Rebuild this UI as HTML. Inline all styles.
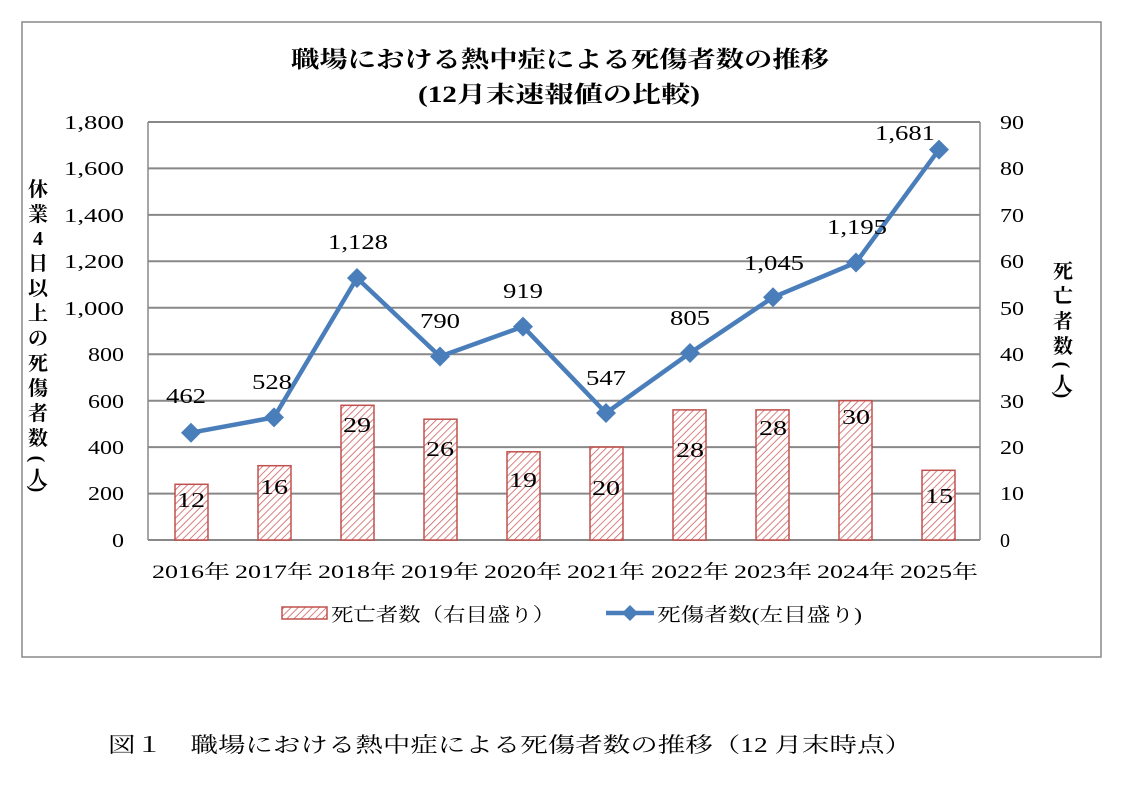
<!DOCTYPE html>
<html><head><meta charset="utf-8"><style>
body{margin:0;background:#fff;}
svg text{font-family:"Liberation Serif","Noto Serif CJK JP",serif;fill:#000;}
</style></head><body>
<svg width="1125" height="783" viewBox="0 0 1125 783" xmlns="http://www.w3.org/2000/svg">
<defs>
<pattern id="h" width="5" height="5" patternUnits="userSpaceOnUse" patternTransform="rotate(45)">
<rect width="5" height="5" fill="#fff"/><line x1="0" y1="0" x2="0" y2="5" stroke="#d06060" stroke-width="1.6"/>
</pattern>
</defs>
<rect x="22" y="22" width="1079" height="635" fill="#fff" stroke="#888" stroke-width="1.5"/>
<text x="291" y="67" font-size="23" font-weight="bold" textLength="538" lengthAdjust="spacingAndGlyphs">職場における熱中症による死傷者数の推移</text>
<text x="418" y="102" font-size="23" font-weight="bold" textLength="282" lengthAdjust="spacingAndGlyphs">(12月末速報値の比較)</text>
<g stroke="#888" stroke-width="2">
<line x1="148" y1="122" x2="980" y2="122"/><line x1="148" y1="168.4" x2="980" y2="168.4"/><line x1="148" y1="214.9" x2="980" y2="214.9"/><line x1="148" y1="261.3" x2="980" y2="261.3"/><line x1="148" y1="307.8" x2="980" y2="307.8"/><line x1="148" y1="354.2" x2="980" y2="354.2"/><line x1="148" y1="400.7" x2="980" y2="400.7"/><line x1="148" y1="447.1" x2="980" y2="447.1"/><line x1="148" y1="493.6" x2="980" y2="493.6"/><line x1="148" y1="540" x2="980" y2="540"/>
<line x1="148" y1="122" x2="148" y2="540" stroke-width="1.5"/><line x1="980" y1="122" x2="980" y2="540" stroke-width="1.5"/>
</g>
<g font-size="20">
<text x="64" y="129" textLength="60" lengthAdjust="spacingAndGlyphs">1,800</text><text x="64" y="175" textLength="60" lengthAdjust="spacingAndGlyphs">1,600</text><text x="64" y="222" textLength="60" lengthAdjust="spacingAndGlyphs">1,400</text><text x="64" y="268" textLength="60" lengthAdjust="spacingAndGlyphs">1,200</text><text x="64" y="315" textLength="60" lengthAdjust="spacingAndGlyphs">1,000</text>
<text x="88" y="361" textLength="36" lengthAdjust="spacingAndGlyphs">800</text><text x="88" y="408" textLength="36" lengthAdjust="spacingAndGlyphs">600</text><text x="88" y="454" textLength="36" lengthAdjust="spacingAndGlyphs">400</text><text x="88" y="500" textLength="36" lengthAdjust="spacingAndGlyphs">200</text><text x="112" y="547" textLength="12" lengthAdjust="spacingAndGlyphs">0</text>
</g>
<g font-size="20">
<text x="1000" y="129" textLength="24" lengthAdjust="spacingAndGlyphs">90</text><text x="1000" y="175" textLength="24" lengthAdjust="spacingAndGlyphs">80</text><text x="1000" y="222" textLength="24" lengthAdjust="spacingAndGlyphs">70</text><text x="1000" y="268" textLength="24" lengthAdjust="spacingAndGlyphs">60</text><text x="1000" y="315" textLength="24" lengthAdjust="spacingAndGlyphs">50</text><text x="1000" y="361" textLength="24" lengthAdjust="spacingAndGlyphs">40</text><text x="1000" y="408" textLength="24" lengthAdjust="spacingAndGlyphs">30</text><text x="1000" y="454" textLength="24" lengthAdjust="spacingAndGlyphs">20</text><text x="1000" y="500" textLength="24" lengthAdjust="spacingAndGlyphs">10</text><text x="1000" y="547">0</text>
</g>
<g font-size="20" font-weight="bold" text-anchor="middle">
<text x="38" y="196">休</text><text x="38" y="221">業</text><text x="38" y="245">4</text><text x="38" y="270">日</text><text x="38" y="295">以</text><text x="38" y="320">上</text><text x="38" y="345">の</text><text x="38" y="370">死</text><text x="38" y="395">傷</text><text x="38" y="420">者</text><text x="38" y="445">数</text><text x="38" y="466" transform="rotate(90 38 459)">(</text><text x="38" y="485">人</text><text x="38" y="496" transform="rotate(90 38 489)">)</text>
<text x="1063" y="278">死</text><text x="1063" y="303">亡</text><text x="1063" y="328">者</text><text x="1063" y="353">数</text><text x="1063" y="372" transform="rotate(90 1063 365)">(</text><text x="1063" y="391">人</text><text x="1063" y="402" transform="rotate(90 1063 395)">)</text>
</g>
<g fill="url(#h)" stroke="#c0504d" stroke-width="1.5">
<rect x="175" y="484.3" width="33" height="55.7"/>
<rect x="258" y="465.7" width="33" height="74.3"/>
<rect x="341" y="405.3" width="33" height="134.7"/>
<rect x="424" y="419.2" width="33" height="120.8"/>
<rect x="507" y="451.8" width="33" height="88.2"/>
<rect x="590" y="447.1" width="33" height="92.9"/>
<rect x="673" y="409.9" width="33" height="130.1"/>
<rect x="756" y="409.9" width="33" height="130.1"/>
<rect x="839" y="400.7" width="33" height="139.3"/>
<rect x="922" y="470.3" width="33" height="69.7"/>
</g>
<g font-size="21">
<text x="177" y="507" textLength="28" lengthAdjust="spacingAndGlyphs">12</text><text x="260" y="494" textLength="28" lengthAdjust="spacingAndGlyphs">16</text><text x="343" y="432" textLength="28" lengthAdjust="spacingAndGlyphs">29</text><text x="426" y="456" textLength="28" lengthAdjust="spacingAndGlyphs">26</text><text x="509" y="487" textLength="28" lengthAdjust="spacingAndGlyphs">19</text><text x="592" y="495" textLength="28" lengthAdjust="spacingAndGlyphs">20</text><text x="676" y="457" textLength="28" lengthAdjust="spacingAndGlyphs">28</text><text x="759" y="435" textLength="28" lengthAdjust="spacingAndGlyphs">28</text><text x="842" y="424" textLength="28" lengthAdjust="spacingAndGlyphs">30</text><text x="925" y="503" textLength="28" lengthAdjust="spacingAndGlyphs">15</text>
</g>
<polyline points="191,432.7 274,417.4 357,278 440,356.5 523,326.6 606,413 690,353 773,297.3 856,262.5 939,149.6" fill="none" stroke="#4a7ebb" stroke-width="4.5" stroke-linejoin="round"/>
<g fill="#4a7ebb">
<path d="M191 422.7l10 10-10 10-10-10z"/><path d="M274 407.4l10 10-10 10-10-10z"/><path d="M357 268l10 10-10 10-10-10z"/><path d="M440 346.5l10 10-10 10-10-10z"/><path d="M523 316.6l10 10-10 10-10-10z"/><path d="M606 403l10 10-10 10-10-10z"/><path d="M690 343l10 10-10 10-10-10z"/><path d="M773 287.3l10 10-10 10-10-10z"/><path d="M856 252.5l10 10-10 10-10-10z"/><path d="M939 139.6l10 10-10 10-10-10z"/>
</g>
<g font-size="21">
<text x="166" y="403" textLength="40" lengthAdjust="spacingAndGlyphs">462</text><text x="252" y="389" textLength="40" lengthAdjust="spacingAndGlyphs">528</text><text x="328" y="249" textLength="60" lengthAdjust="spacingAndGlyphs">1,128</text><text x="420" y="328" textLength="40" lengthAdjust="spacingAndGlyphs">790</text><text x="503" y="298" textLength="40" lengthAdjust="spacingAndGlyphs">919</text><text x="586" y="385" textLength="40" lengthAdjust="spacingAndGlyphs">547</text><text x="670" y="325" textLength="40" lengthAdjust="spacingAndGlyphs">805</text><text x="744" y="270" textLength="60" lengthAdjust="spacingAndGlyphs">1,045</text><text x="827" y="234" textLength="60" lengthAdjust="spacingAndGlyphs">1,195</text><text x="875" y="140" textLength="60" lengthAdjust="spacingAndGlyphs">1,681</text>
</g>
<g font-size="19">
<text x="152" y="578" textLength="78" lengthAdjust="spacingAndGlyphs">2016年</text><text x="235" y="578" textLength="78" lengthAdjust="spacingAndGlyphs">2017年</text><text x="318" y="578" textLength="78" lengthAdjust="spacingAndGlyphs">2018年</text><text x="401" y="578" textLength="78" lengthAdjust="spacingAndGlyphs">2019年</text><text x="484" y="578" textLength="78" lengthAdjust="spacingAndGlyphs">2020年</text><text x="567" y="578" textLength="78" lengthAdjust="spacingAndGlyphs">2021年</text><text x="651" y="578" textLength="78" lengthAdjust="spacingAndGlyphs">2022年</text><text x="734" y="578" textLength="78" lengthAdjust="spacingAndGlyphs">2023年</text><text x="817" y="578" textLength="78" lengthAdjust="spacingAndGlyphs">2024年</text><text x="900" y="578" textLength="78" lengthAdjust="spacingAndGlyphs">2025年</text>
</g>
<rect x="282" y="607" width="45" height="12" fill="url(#h)" stroke="#c0504d" stroke-width="1.5"/>
<text x="331" y="621" font-size="19" textLength="224" lengthAdjust="spacingAndGlyphs">死亡者数（右目盛り）</text>
<line x1="606" y1="613" x2="654" y2="613" stroke="#4a7ebb" stroke-width="4.5"/>
<path d="M630 605l8 8-8 8-8-8z" fill="#4a7ebb"/>
<text x="657" y="621" font-size="19" textLength="205" lengthAdjust="spacingAndGlyphs">死傷者数(左目盛り)</text>
<text x="108" y="752" font-size="21" textLength="804" lengthAdjust="spacingAndGlyphs">図１　職場における熱中症による死傷者数の推移（12 月末時点）</text>
</svg>
</body></html>
